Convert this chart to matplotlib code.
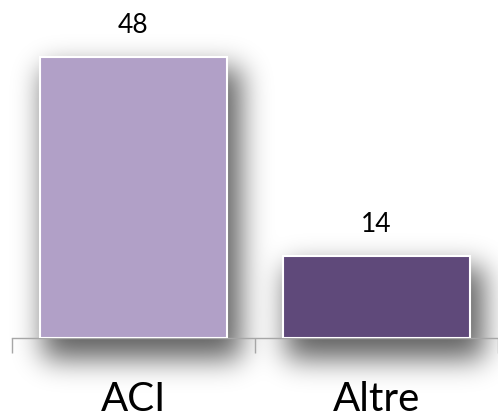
import numpy as np
import matplotlib.pyplot as plt

categories = ["ACI", "Altre"]
values = [48, 14]
colors = ["#b1a0c7", "#5f497a"]

W, H, DPI = 498, 418, 100
plt.rcParams['font.family'] = ['Lato', 'DejaVu Sans']

fig = plt.figure(figsize=(W / DPI, H / DPI), dpi=DPI)
fig.patch.set_facecolor("white")

# background axes for the blurred drop shadow
bg = fig.add_axes([0, 0, 1, 1], zorder=0)
bg.set_axis_off()

# main axes: x from 12 to 498 px, baseline at y=338 px
ax = fig.add_axes([12 / W, (H - 338) / H, 486 / W, 338 / H], zorder=1)
ax.patch.set_alpha(0)
ax.set_xlim(-0.5, 1.5)
ax.set_ylim(0, 57.7)

bars = ax.bar(range(len(values)), values, width=0.77, color=colors,
              edgecolor="white", linewidth=1.5, zorder=3)

# build shadow mask from the bars' pixel extents
fig.canvas.draw()
renderer = fig.canvas.get_renderer()
mask = np.zeros((H, W))
dx, dy, grow = 9, -16, 5
for b in bars:
    e = b.get_window_extent(renderer)
    x0 = int(e.x0 + dx - grow); x1 = int(e.x1 + dx + grow)
    y0 = int(e.y0 + dy - grow); y1 = int(e.y1 + dy + grow)
    mask[max(y0, 0):min(y1, H), max(x0, 0):min(x1, W)] = 1.0

sigma = 14
k = np.arange(-3 * sigma, 3 * sigma + 1)
kern = np.exp(-k ** 2 / (2 * sigma ** 2))
kern /= kern.sum()
pad = 3 * sigma
mp = np.pad(mask, pad, mode="edge")
blur = np.apply_along_axis(lambda r: np.convolve(r, kern, mode="same"), 1, mp)
blur = np.apply_along_axis(lambda c: np.convolve(c, kern, mode="same"), 0, blur)
blur = blur[pad:-pad, pad:-pad]

rgba = np.zeros((H, W, 4))
rgba[..., 3] = blur * 0.62
bg.imshow(rgba, extent=[0, W, 0, H], origin="lower", aspect="auto",
          interpolation="bilinear")
bg.set_xlim(0, W)
bg.set_ylim(0, H)

for i, v in enumerate(values):
    ax.annotate(str(v), (i, v), xytext=(0, 22.5), textcoords="offset points",
                ha="center", va="center", fontsize=19, color="black")
    ax.text(i, -0.216, categories[i], transform=ax.get_xaxis_transform(),
            ha="center", va="baseline", fontsize=29, color="black")

for s in ["left", "top", "right"]:
    ax.spines[s].set_visible(False)
ax.spines["bottom"].set_color("#a6a6a6")
ax.spines["bottom"].set_linewidth(1.0)
ax.spines["bottom"].set_zorder(2)
ax.set_yticks([])
ax.set_xticks([-0.5, 0.5, 1.5])
ax.set_xticklabels([])
ax.tick_params(axis="x", length=10.8, width=1.0, color="#a6a6a6", direction="out")

fig.savefig("out.png", dpi=DPI)
